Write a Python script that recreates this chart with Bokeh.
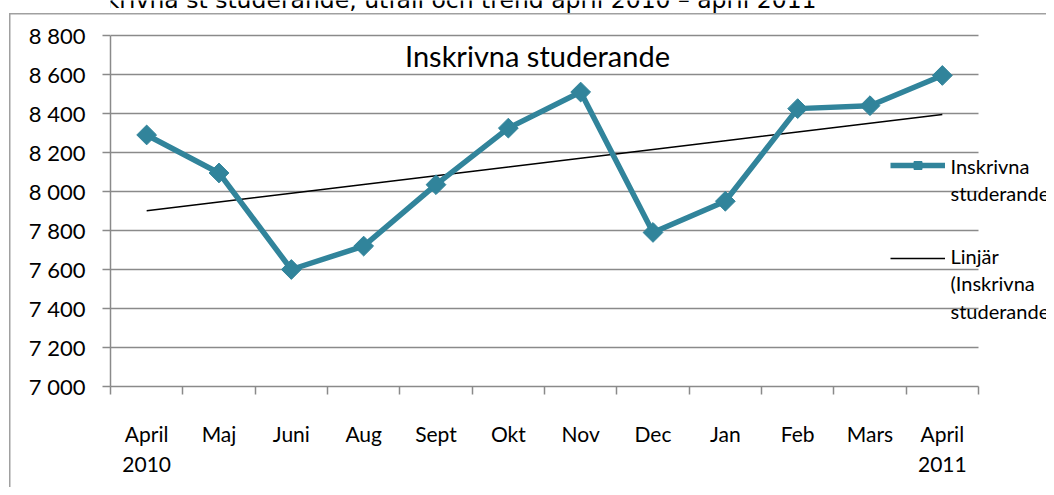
import numpy as np
from bokeh.plotting import figure
from bokeh.models import Range1d, FixedTicker, Legend, LegendItem, Label
from bokeh.embed import file_html
from bokeh.resources import INLINE

# ---- data -------------------------------------------------------------
months = ["April\n2010", "Maj", "Juni", "Aug", "Sept", "Okt", "Nov", "Dec",
          "Jan", "Feb", "Mars", "April\n2011"]
students = [8290, 8095, 7600, 7720, 8035, 8325, 8510, 7790, 7950, 8425, 8440, 8595]
y_ticks = [7000, 7200, 7400, 7600, 7800, 8000, 8200, 8400, 8600, 8800]
y_tick_labels = ["7 000", "7 200", "7 400", "7 600", "7 800", "8 000",
                 "8 200", "8 400", "8 600", "8 800"]
series_name = "Inskrivna\nstuderande"
trend_name = "Linjär\n(Inskrivna\nstuderande)"
chart_title = "Inskrivna studerande"
header = "Antal inskrivna st studerande, utfall och trend april 2010 – april 2011"

# ---- derived ----------------------------------------------------------
x = np.arange(1, len(months) + 1)
slope, intercept = np.polyfit(x, students, 1)
trend = slope * x + intercept

W, H = 1046, 487
PL, PT, PR, PB = 110, 35, 978, 386   # visible plot-area edges in canvas pixels
TEAL = "#31849B"
GRID = "#8a8a8a"
BORDER = "#a0a0a0"
FONT = "Lato"

x0, x1 = 0.5, len(months) + 0.5
y0, y1 = y_ticks[0], y_ticks[-1]
# the frame runs to the right and top canvas edges so that texts there are not clipped
x_end = x1 + (W - PR) * (x1 - x0) / (PR - PL)
y_end = y1 + PT * (y1 - y0) / (PB - PT)


def sx(px):
    return px - PL


def sy(py):
    return PB - py


p = figure(width=W, height=H, output_backend="svg", toolbar_location=None,
           x_range=Range1d(x0, x_end), y_range=Range1d(y0, y_end),
           min_border_left=PL, min_border_right=0,
           min_border_top=0, min_border_bottom=H - PB)
p.outline_line_color = None
p.background_fill_alpha = 0
p.border_fill_alpha = 0
# outer chart-area border (left and top edges) painted behind the canvas
p.styles = {
    "background": (f"linear-gradient({BORDER}, {BORDER}) 9px 13px / 1.5px 2000px no-repeat, "
                   f"linear-gradient({BORDER}, {BORDER}) 9px 13px / 3000px 1.5px no-repeat, "
                   "white")
}

# grid
p.xgrid.grid_line_color = None
p.ygrid.ticker = FixedTicker(ticks=y_ticks)
try:
    p.ygrid.cross_bounds = (x0, x1)
    p.ygrid.grid_line_color = GRID
    p.ygrid.grid_line_width = 1.5
except Exception:
    p.ygrid.grid_line_color = None
    p.segment(x0=[x0] * len(y_ticks), x1=[x1] * len(y_ticks), y0=y_ticks, y1=y_ticks,
              line_color=GRID, line_width=1.5)

# y axis
p.yaxis.ticker = FixedTicker(ticks=y_ticks)
p.yaxis.bounds = (y0, y1)
p.yaxis.major_label_overrides = {t: l for t, l in zip(y_ticks, y_tick_labels)}
p.yaxis.axis_line_color = GRID
p.yaxis.axis_line_width = 1.5
p.yaxis.major_tick_line_color = GRID
p.yaxis.major_tick_line_width = 1.5
p.yaxis.major_tick_out = 8
p.yaxis.major_tick_in = 0
p.yaxis.minor_tick_line_color = None
p.yaxis.major_label_text_font = FONT
p.yaxis.major_label_text_font_size = "22px"
p.yaxis.major_label_text_color = "black"
p.yaxis.major_label_standoff = 17

# x axis
p.xaxis.ticker = FixedTicker(ticks=list(x),
                             minor_ticks=list(np.arange(x0, x1 + 0.5, 1.0)))
p.xaxis.bounds = (x0, x1)
p.xaxis.major_label_overrides = {int(i): m for i, m in zip(x, months)}
p.xaxis.axis_line_color = GRID
p.xaxis.axis_line_width = 1.5
p.xaxis.major_tick_line_color = None
p.xaxis.major_tick_out = 0
p.xaxis.major_tick_in = 0
p.xaxis.minor_tick_line_color = GRID
p.xaxis.minor_tick_line_width = 1.5
p.xaxis.minor_tick_out = 8
p.xaxis.minor_tick_in = 0
p.xaxis.major_label_text_font = FONT
p.xaxis.major_label_text_font_size = "21px"
p.xaxis.major_label_text_color = "black"
p.xaxis.major_label_standoff = 26

# series
trend_r = p.line(x, trend, line_color="black", line_width=1.5)
line_r = p.line(x, students, line_color=TEAL, line_width=5.5, line_join="round")
pts_r = p.scatter(x, students, marker="square", angle=np.pi / 4, size=14,
                  fill_color=TEAL, line_color=TEAL)
# legend swatch glyphs (undrawable NaN point, used only by the legend)
leg_line = p.line([np.nan, np.nan], [np.nan, np.nan], line_color=TEAL, line_width=5.5)
leg_pts = p.scatter([np.nan], [np.nan], marker="square", angle=np.pi / 4, size=8,
                    fill_color=TEAL, line_color=TEAL)

# title inside plot
p.add_layout(Label(x=sx(537), y=sy(55), x_units="screen", y_units="screen",
                   text=chart_title, text_font=FONT, text_font_size="29px",
                   text_color="black", text_align="center", text_baseline="middle"))

# header (cut at top of page, only its lower part shows)
p.add_layout(Label(x=sx(3), y=sy(-1), x_units="screen", y_units="screen", text=header,
                   text_font="DejaVu Sans", text_font_size="23.5px", text_color="black",
                   text_align="left", text_baseline="alphabetic"))

# legend swatches
legend = Legend(items=[LegendItem(label=" ", renderers=[leg_line, leg_pts]),
                       LegendItem(label=" ", renderers=[trend_r])],
                location=(890 - PL, PB - 268), background_fill_alpha=0,
                border_line_alpha=0, label_text_font_size="10px", glyph_width=55,
                glyph_height=20, label_height=20, label_standoff=0, padding=0,
                margin=0, spacing=73)
p.add_layout(legend)

# legend texts
for txt, top in [(series_name, 153), (trend_name, 243)]:
    p.add_layout(Label(x=sx(950), y=sy(top), x_units="screen", y_units="screen",
                       text=txt, text_font=FONT, text_font_size="20px",
                       text_color="black", text_align="left", text_baseline="top",
                       text_line_height=1.15))

open("out.html", "w").write(file_html(p, INLINE))
